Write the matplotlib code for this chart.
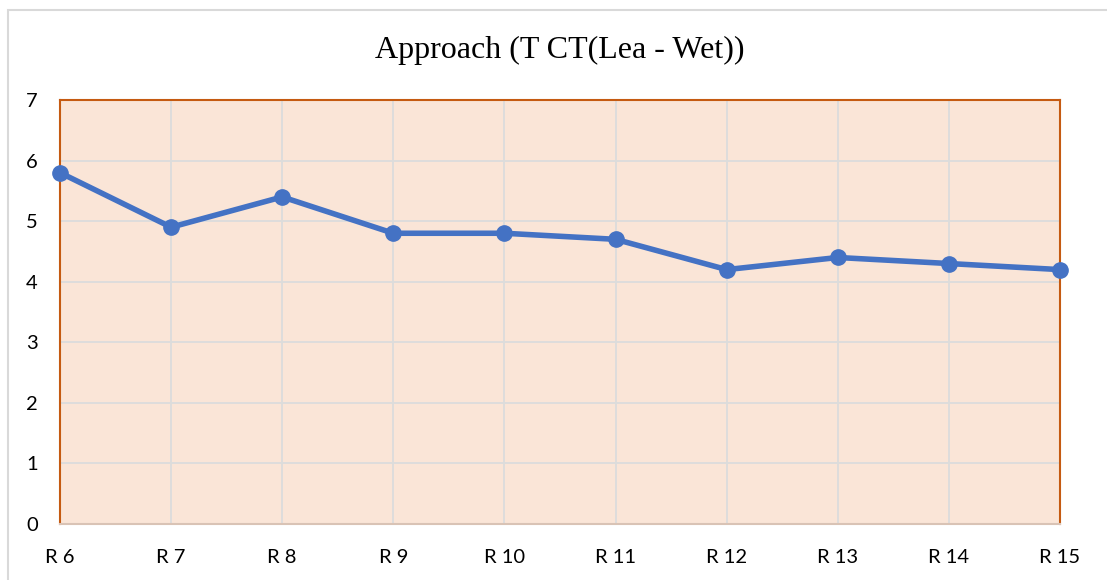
import matplotlib.pyplot as plt
from matplotlib.patches import Rectangle

# =========================================================
# DATA
rounds = ['R 6', 'R 7', 'R 8', 'R 9', 'R 10', 'R 11', 'R 12', 'R 13', 'R 14', 'R 15']
approach = [5.8, 4.9, 5.4, 4.8, 4.8, 4.7, 4.2, 4.4, 4.3, 4.2]
y_ticks = [0, 1, 2, 3, 4, 5, 6, 7]

W, H = 1107, 580

fig = plt.figure(figsize=(W / 100, H / 100), dpi=100)
ax = fig.add_axes([60 / W, 1 - 524 / H, 1000 / W, 424 / H])

# outer chart frame (only top and left edges visible)
fig.patches.append(Rectangle((8 / W, -0.1), 1.2, 1 - 10 / H + 0.1,
                             transform=fig.transFigure, fill=False,
                             edgecolor='#D9D9D9', linewidth=1.5))

ax.set_facecolor('#FAE5D7')
x = list(range(len(rounds)))
ax.plot(x, approach, color='#4472C4', linewidth=4, marker='o',
        markersize=11, solid_capstyle='round', zorder=3, clip_on=False)

ax.set_xlim(0, len(rounds) - 1)
ax.set_ylim(0, 7)
ax.set_xticks(x)
ax.set_xticklabels(rounds)
ax.set_yticks(y_ticks)
ax.grid(True, color='#DCDCDC', linewidth=1.3)
ax.set_axisbelow(True)
ax.tick_params(length=0, labelsize=14.5, pad=18)
ax.tick_params(axis='y', pad=16)
for lab in ax.get_xticklabels() + ax.get_yticklabels():
    lab.set_family('Lato')
    lab.set_color('#000000')

for side in ['left', 'top', 'right']:
    ax.spines[side].set_color('#C55A11')
    ax.spines[side].set_linewidth(1.5)
ax.spines['bottom'].set_color('#D9C3B5')
ax.spines['bottom'].set_linewidth(1.5)

fig.text(560 / W, 1 - 50 / H, 'Approach (T CT(Lea - Wet))', ha='center', va='center',
         fontsize=23, family='Liberation Serif')

fig.savefig('out.png', dpi=100)
